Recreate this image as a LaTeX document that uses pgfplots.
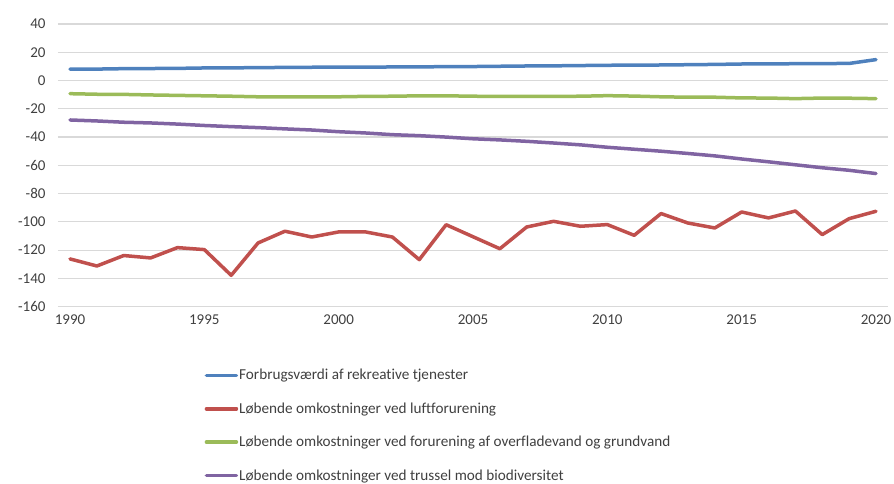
\documentclass[border=0pt]{standalone}
\usepackage{fontspec}
\setmainfont{Carlito}[Ligatures=NoCommon]
\usepackage{pgfplots}
\pgfplotsset{compat=1.18}
\definecolor{cblue}{HTML}{4F81BD}
\definecolor{cred}{HTML}{C0504D}
\definecolor{cgreen}{HTML}{9BBB59}
\definecolor{cpurple}{HTML}{8064A2}
\definecolor{cgrid}{HTML}{D9D9D9}
\definecolor{ctext}{HTML}{404040}
\begin{document}
\begin{tikzpicture}
\useasboundingbox (-58pt,-177.3pt) rectangle (836pt,306.7pt);
\begin{axis}[
  at={(0,0)}, anchor=south west,
  scale only axis, width=830pt, height=282.7pt,
  xmin=1989.553, xmax=2020.447,
  ymin=-160, ymax=40,
  xtick={1990,1995,...,2020},
  ytick={-160,-140,...,40},
  axis line style={draw=none},
  major tick length=0pt,
  ymajorgrids, grid style={cgrid, line width=1.2pt},
  tick label style={font=\fontsize{15}{18}\selectfont, text=ctext},
  /pgf/number format/assume math mode=true,
  x tick label style={/pgf/number format/1000 sep={}, yshift=-5pt},
  y tick label style={/pgf/number format/fixed, xshift=-9pt},
  legend style={draw=none, fill=none, at={(axis description cs:0.1765,-0.2175)}, anchor=north west,
    font=\fontsize{15.2}{18}\selectfont, text=ctext, row sep=19.3pt, inner sep=0pt,
    nodes={inner sep=1pt}},
  legend cell align=left,
  legend image code/.code={\draw[#1, line width=3.5pt] (0pt,0pt) -- (30pt,0pt);},
  every axis plot/.append style={line width=3.5pt, line join=round, line cap=round},
]
\addplot[cblue] coordinates {
(1990,8.0)(1991,8.1)(1992,8.4)(1993,8.5)(1994,8.6)(1995,8.9)(1996,9.0)(1997,9.1)(1998,9.3)(1999,9.4)
(2000,9.5)(2001,9.5)(2002,9.6)(2003,9.7)(2004,9.8)(2005,9.9)(2006,10.1)(2007,10.3)(2008,10.4)(2009,10.6)
(2010,10.8)(2011,10.9)(2012,11.0)(2013,11.2)(2014,11.4)(2015,11.7)(2016,11.8)(2017,11.9)(2018,12.0)(2019,12.1)(2020,14.8)};
\addlegendentry{Forbrugsværdi af rekreative tjenester}
\addplot[cred] coordinates {
(1990,-126.2)(1991,-131.2)(1992,-123.8)(1993,-125.5)(1994,-118.2)(1995,-119.6)(1996,-137.8)(1997,-114.9)(1998,-106.6)(1999,-110.7)
(2000,-107.1)(2001,-107.1)(2002,-110.7)(2003,-126.7)(2004,-102.0)(2005,-110.5)(2006,-119.0)(2007,-103.6)(2008,-99.6)(2009,-103.1)
(2010,-101.9)(2011,-109.5)(2012,-94.1)(2013,-100.8)(2014,-104.3)(2015,-93.0)(2016,-97.2)(2017,-92.3)(2018,-109.0)(2019,-97.7)(2020,-92.5)};
\addlegendentry{Løbende omkostninger ved luftforurening}
\addplot[cgreen] coordinates {
(1990,-9.3)(1991,-9.7)(1992,-9.8)(1993,-10.2)(1994,-10.5)(1995,-10.8)(1996,-11.1)(1997,-11.5)(1998,-11.5)(1999,-11.5)
(2000,-11.5)(2001,-11.2)(2002,-11.1)(2003,-10.8)(2004,-10.8)(2005,-11.1)(2006,-11.2)(2007,-11.2)(2008,-11.2)(2009,-11.1)
(2010,-10.7)(2011,-11.0)(2012,-11.5)(2013,-11.8)(2014,-11.8)(2015,-12.3)(2016,-12.4)(2017,-12.8)(2018,-12.4)(2019,-12.5)(2020,-12.8)};
\addlegendentry{Løbende omkostninger ved forurening af overfladevand og grundvand}
\addplot[cpurple] coordinates {
(1990,-27.9)(1991,-28.6)(1992,-29.5)(1993,-30.0)(1994,-30.8)(1995,-31.8)(1996,-32.6)(1997,-33.3)(1998,-34.2)(1999,-35.0)
(2000,-36.2)(2001,-37.1)(2002,-38.3)(2003,-39.0)(2004,-40.0)(2005,-41.2)(2006,-42.0)(2007,-43.0)(2008,-44.2)(2009,-45.5)
(2010,-47.2)(2011,-48.6)(2012,-50.0)(2013,-51.6)(2014,-53.3)(2015,-55.5)(2016,-57.5)(2017,-59.6)(2018,-61.7)(2019,-63.5)(2020,-65.8)};
\addlegendentry{Løbende omkostninger ved trussel mod biodiversitet}
\end{axis}
\end{tikzpicture}
\end{document}
